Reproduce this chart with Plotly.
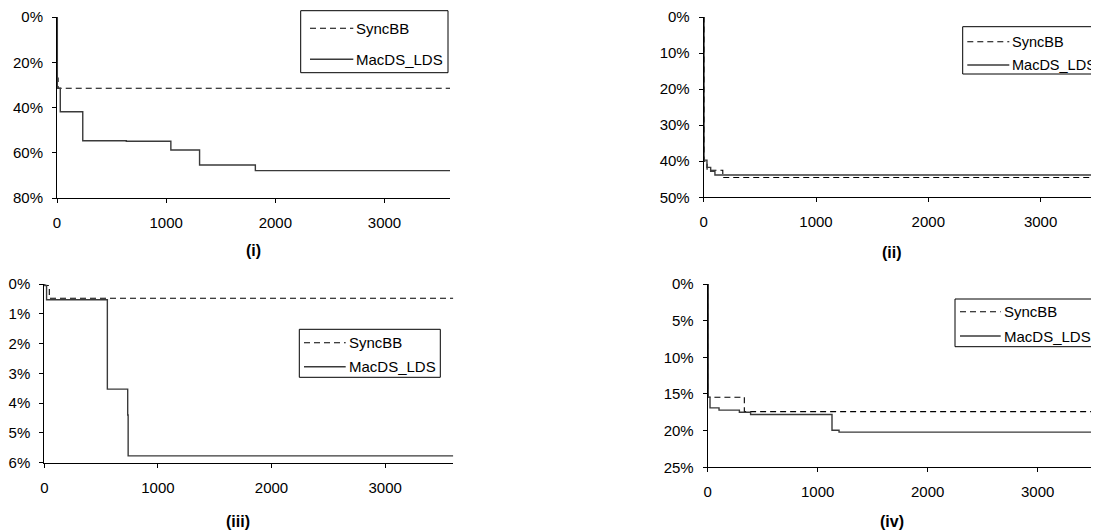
import plotly.graph_objects as go

# The page body adds an 8px margin, so the figure is 8px smaller and all
# reference pixel positions are shifted by that offset.
OFF = 8
W, H = 1099 - OFF, 531 - OFF

# ---------------- data (time in seconds, value in %) ----------------
# Panel (i)
t1_sync = [0, 4, 10, 3600]
v1_sync = [0, 27, 31.5, 31.5]
t1_mac = [0, 3, 30, 236, 635, 1043, 1306, 1817, 3600]
v1_mac = [0, 31.5, 41.9, 54.7, 54.9, 58.8, 65.4, 67.9, 67.9]

# Panel (ii)
t2_sync = [0, 4, 30, 170, 3600]
v2_sync = [0, 40.0, 42.5, 44.5, 44.5]
t2_mac = [0, 3, 29, 62, 100, 3600]
v2_mac = [0, 39.7, 41.7, 42.8, 43.8, 43.8]

# Panel (iii)
t3_sync = [0, 3, 44, 3600]
v3_sync = [0, 0.05, 0.48, 0.48]
t3_mac = [0, 3, 20, 555, 734, 738, 3600]
v3_mac = [0, 0.05, 0.53, 3.53, 4.4, 5.77, 5.77]

# Panel (iv)
t4_sync = [0, 5, 333, 3600]
v4_sync = [0, 15.45, 17.4, 17.4]
t4_mac = [0, 5, 21, 103, 288, 390, 1130, 1194, 3600]
v4_mac = [0, 15.45, 16.9, 17.2, 17.5, 17.8, 19.95, 20.2, 20.2]

x_ticks = [0, 1000, 2000, 3000]
y_ticks = [
    [0, 20, 40, 60, 80],
    [0, 10, 20, 30, 40, 50],
    [0, 1, 2, 3, 4, 5, 6],
    [0, 5, 10, 15, 20, 25],
]
series_names = ["SyncBB", "MacDS_LDS"]
panel_labels = ["(i)", "(ii)", "(iii)", "(iv)"]

FONT = "Liberation Sans, Arial, sans-serif"
DASH = "6px,4px"
SOLID_COLOR = "#3a3a3a"

def px_x(p):
    return (p - OFF) / W

def px_y(p):
    return 1 - (p - OFF) / H

# panel geometry in reference pixels: (left, right, top, bottom, xmax, ymax)
panels = [
    (57.0, 450.0, 17.0, 198.0, 3600, 80),
    (703.7, 1099.0, 17.0, 197.3, (1099 - 703.7) / 0.1123, 50),
    (44.3, 453.3, 284.0, 462.7, 3600, 6),
    (707.7, 1099.0, 284.0, 467.3, (1099 - 707.7) / 0.110, 25),
]

data = [
    (t1_sync, v1_sync, t1_mac, v1_mac),
    (t2_sync, v2_sync, t2_mac, v2_mac),
    (t3_sync, v3_sync, t3_mac, v3_mac),
    (t4_sync, v4_sync, t4_mac, v4_mac),
]

# legend boxes in reference pixels:
# (box_x0, box_x1, box_y0, box_y1, sample_x0, sample_x1, text_x, row1_y, row2_y, font)
legend_geo = [
    (300.7, 448.0, 10.7, 72.7, 310.0, 353.3, 355.0, 28.3, 59.3, 15),
    (962.7, 1109.0, 26.7, 74.0, 967.3, 1009.3, 1011.0, 41.7, 65.0, 14.5),
    (299.3, 440.3, 329.3, 377.3, 304.0, 345.7, 348.0, 342.7, 366.7, 15),
    (955.0, 1096.7, 299.0, 346.7, 960.0, 1000.7, 1003.0, 311.7, 336.0, 15),
]
label_pos = [(253, 250), (892, 252), (238, 521), (892, 521)]

fig = go.Figure()
annotations = []
shapes = []
layout = dict(
    width=W, height=H, autosize=False,
    margin=dict(l=0, r=0, t=0, b=0, autoexpand=False),
    paper_bgcolor="white", plot_bgcolor="white",
    font=dict(family=FONT, size=15, color="black"),
    showlegend=False,
)

for i, (geo, d) in enumerate(zip(panels, data)):
    left, right, top, bottom, xmax, ymax = geo
    n = i + 1
    xa = "xaxis" if n == 1 else f"xaxis{n}"
    ya = "yaxis" if n == 1 else f"yaxis{n}"
    xr = "x" if n == 1 else f"x{n}"
    yr = "y" if n == 1 else f"y{n}"
    ts, vs, tm, vm = d
    fig.add_trace(go.Scatter(
        x=ts, y=vs, mode="lines", line_shape="hv", name=series_names[0],
        line=dict(color="black", width=1.1, dash=DASH),
        xaxis=xr, yaxis=yr, hoverinfo="skip"))
    fig.add_trace(go.Scatter(
        x=tm, y=vm, mode="lines", line_shape="hv", name=series_names[1],
        line=dict(color=SOLID_COLOR, width=1.4),
        xaxis=xr, yaxis=yr, hoverinfo="skip"))
    layout[xa] = dict(
        domain=[px_x(left), min(1.0, px_x(right))], range=[0, xmax], anchor=yr,
        tickvals=x_ticks, ticks="outside", ticklen=4, tickcolor="black",
        showline=True, linecolor="black", linewidth=1, showgrid=False,
        zeroline=False, ticklabelstandoff=7, tickfont=dict(size=15),
        ticklabeloverflow="allow", fixedrange=True)
    yt = y_ticks[i]
    layout[ya] = dict(
        domain=[px_y(bottom), px_y(top)], range=[ymax, 0], anchor=xr,
        tickvals=yt, ticktext=[f"{v}%" for v in yt],
        ticks="outside", ticklen=4,
        tickcolor="black", showline=True, linecolor="black", linewidth=1,
        showgrid=False, zeroline=False, ticklabelstandoff=6,
        tickfont=dict(size=15), ticklabeloverflow="allow", fixedrange=True)

    # hand-drawn legend box (matches the reference's box geometry)
    bx0, bx1, by0, by1, sx0, sx1, tx, r1, r2, fs = legend_geo[i]
    shapes.append(dict(
        type="rect", xref="paper", yref="paper",
        x0=px_x(bx0), x1=px_x(bx1), y0=px_y(by1), y1=px_y(by0),
        line=dict(color="black", width=1), fillcolor="white", layer="above"))
    shapes.append(dict(
        type="line", xref="paper", yref="paper",
        x0=px_x(sx0), x1=px_x(sx1), y0=px_y(r1), y1=px_y(r1),
        line=dict(color="black", width=1.1, dash=DASH), layer="above"))
    shapes.append(dict(
        type="line", xref="paper", yref="paper",
        x0=px_x(sx0), x1=px_x(sx1), y0=px_y(r2), y1=px_y(r2),
        line=dict(color=SOLID_COLOR, width=1.4), layer="above"))
    for name, ry in zip(series_names, (r1, r2)):
        annotations.append(dict(
            x=px_x(tx), y=px_y(ry), xref="paper", yref="paper",
            text=name, showarrow=False, xanchor="left", yanchor="middle",
            borderpad=0, font=dict(family=FONT, size=fs, color="black")))

    ax, ay = label_pos[i]
    annotations.append(dict(
        x=px_x(ax), y=px_y(ay), xref="paper", yref="paper",
        text=f"<b>{panel_labels[i]}</b>", showarrow=False,
        font=dict(family=FONT, size=16, color="black"),
        xanchor="center", yanchor="middle"))

layout["annotations"] = annotations
layout["shapes"] = shapes
fig.update_layout(**layout)
fig.write_html("out.html", config={"displayModeBar": False})
